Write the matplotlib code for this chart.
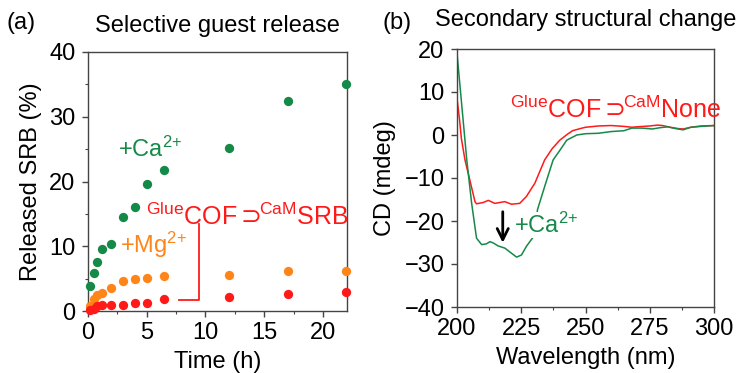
import matplotlib
matplotlib.use("Agg")
import matplotlib.pyplot as plt
from matplotlib.ticker import MultipleLocator

plt.rcParams['font.family'] = ['Liberation Sans', 'DejaVu Sans']
plt.rcParams['mathtext.fontset'] = 'custom'
plt.rcParams['mathtext.rm'] = 'Liberation Sans'
plt.rcParams['mathtext.it'] = 'Liberation Sans:italic'
plt.rcParams['mathtext.bf'] = 'Liberation Sans:bold'
plt.rcParams['mathtext.sf'] = 'DejaVu Sans'

GREEN = '#158a48'
ORANGE = '#ff8519'
RED = '#ff1a1a'
SPINE = '#444444'

# ---- Panel (a) data ----
time_h = [0.2, 0.5, 0.8, 1.2, 2, 3, 4, 5, 6.5, 12, 17, 22]
release_ca = [3.8, 5.8, 7.5, 9.5, 10.4, 14.5, 16.0, 19.6, 21.8, 25.1, 32.5, 35.0]
release_mg = [0.8, 1.9, 2.4, 2.8, 3.6, 4.7, 4.9, 5.1, 5.4, 5.5, 6.2, 6.2]
release_none = [0.2, 0.3, 0.7, 1.0, 1.0, 0.85, 1.3, 1.3, 1.9, 2.2, 2.7, 2.9]

# ---- Panel (b) data ----
wl_none = [200, 201, 201.7, 203.1, 205, 207, 207.6, 210.2, 212.2, 214.7, 218.6,
           221.2, 224.4, 227, 230.3, 234.1, 237, 240, 243, 245, 248, 250, 255,
           260, 265, 268, 270, 275, 278, 280, 283, 286, 288, 291, 295, 300]
cd_none = [8.5, 3.5, -0.8, -5.8, -10.5, -15.5, -16.0, -15.7, -15.2, -15.9, -15.5,
           -16.1, -15.9, -14.3, -11.2, -5.8, -3.2, -1.2, 0.2, 1.0, 1.5, 1.8, 2.1,
           2.2, 2.0, 1.8, 1.9, 2.1, 2.3, 2.2, 1.8, 1.5, 1.4, 1.8, 2.1, 2.2]
wl_ca = [200, 203.8, 205.7, 207.6, 209.6, 211.5, 212.8, 214.1, 216, 218.6, 221.2,
         223.2, 225.1, 227, 230.3, 231.3, 234.1, 237.4, 240.1, 242.7, 246.6, 250,
         255, 260, 265, 268, 272, 276, 279, 282, 285, 288, 291, 295, 300]
cd_ca = [19.0, -5.8, -15.9, -24.0, -25.5, -25.3, -24.8, -25.1, -25.8, -26.3, -27.5,
         -28.4, -27.9, -25.9, -23.2, -17.4, -12.0, -5.8, -3.5, -1.2, 0.0, 0.3,
         0.4, 0.8, 1.0, 1.6, 1.6, 1.4, 1.7, 1.9, 1.5, 1.2, 1.8, 2.0, 2.2]

W, H = 742, 373
fig = plt.figure(figsize=(W / 100, H / 100), dpi=100)
ax1 = fig.add_axes([88 / W, 1 - 311 / H, (347 - 88) / W, (311 - 52) / H])
ax2 = fig.add_axes([457 / W, 1 - 307 / H, (714 - 457) / W, (307 - 49) / H])

FS = 17

def style(ax):
    for s in ax.spines.values():
        s.set_color(SPINE)
        s.set_linewidth(1.0)
    ax.tick_params(which='both', direction='out', color=SPINE, top=False, right=False,
                   labelsize=FS)
    ax.tick_params(which='major', length=4, width=1.0)
    ax.tick_params(axis='y', which='major', pad=5)
    ax.tick_params(axis='x', which='major', pad=4)
    ax.tick_params(which='minor', length=2.5, width=0.8)

ION_CA = r'+Ca$^{2{+}}$'
ION_MG = r'+Mg$^{2{+}}$'
LBL_SRB = r'$^{\mathrm{Glue}}\mathrm{COF}\mathsf{{\supset}}\!\!{}^{\mathrm{CaM}}\mathrm{SRB}$'
LBL_NONE = r'$^{\mathrm{Glue}}\mathrm{COF}\mathsf{{\supset}}\!\!{}^{\mathrm{CaM}}\mathrm{None}$'

# Panel (a)
ms = 45
ax1.scatter(time_h, release_ca, s=ms, color=GREEN, clip_on=False, zorder=3, linewidths=0)
ax1.scatter(time_h, release_mg, s=ms, color=ORANGE, clip_on=False, zorder=3, linewidths=0)
ax1.scatter(time_h, release_none, s=ms, color=RED, clip_on=False, zorder=4, linewidths=0)
ax1.set_xlim(0, 22.05)
ax1.set_ylim(0, 40)
ax1.xaxis.set_major_locator(MultipleLocator(5))
ax1.xaxis.set_minor_locator(MultipleLocator(2.5))
ax1.yaxis.set_major_locator(MultipleLocator(10))
ax1.yaxis.set_minor_locator(MultipleLocator(5))
style(ax1)
ax1.set_xlabel('Time (h)', fontsize=FS, labelpad=5)
ax1.set_ylabel('Released SRB (%)', fontsize=FS, labelpad=5)
ax1.set_title('Selective guest release', fontsize=FS, pad=14.5)

ax1.text(2.56, 24.9, ION_CA, color=GREEN, fontsize=FS, va='center', ha='left')
ax1.text(2.76, 10.2, ION_MG, color=ORANGE, fontsize=FS, va='center', ha='left')
ax1.text(4.95, 14.6, LBL_SRB, color=RED, fontsize=18, va='center', ha='left')
ax1.plot([9.45, 9.45, 7.77], [13.4, 1.75, 1.75], color=RED, lw=1.3, zorder=2)

# Panel (b)
ax2.plot(wl_none, cd_none, color=RED, lw=1.1, zorder=2)
ax2.plot(wl_ca, cd_ca, color=GREEN, lw=1.1, zorder=2)
ax2.set_xlim(200, 300)
ax2.set_ylim(-40, 20)
ax2.xaxis.set_major_locator(MultipleLocator(25))
ax2.xaxis.set_minor_locator(MultipleLocator(12.5))
style(ax2)
ax2.set_yticks([20, 10, 0, -10, -20, -30, -40])
ax2.set_yticklabels(['20', '10', '0', '\u221210', '\u221220', '\u221230', '\u221240'])
ax2.set_xlabel('Wavelength (nm)', fontsize=FS, labelpad=5)
ax2.set_ylabel('CD (mdeg)', fontsize=FS, labelpad=6)
ax2.set_title('Secondary structural change', fontsize=FS, pad=16.5)

ax2.text(222.3, -20.9, ION_CA, color=GREEN, fontsize=FS, va='center', ha='left',
         zorder=5, bbox=dict(facecolor='white', edgecolor='none', pad=0.5))
ax2.text(220.6, 6.0, LBL_NONE, color=RED, fontsize=18, va='center', ha='left')
ax2.annotate('', xy=(217.8, -25.7), xytext=(217.8, -17.2),
             arrowprops=dict(arrowstyle='->', color='black', lw=2, mutation_scale=20))

fig.text(7 / W, 1 - 23 / H, '(a)', fontsize=FS, va='center', ha='left')
fig.text(383 / W, 1 - 23 / H, '(b)', fontsize=FS, va='center', ha='left')

fig.savefig('out.png', dpi=100)
